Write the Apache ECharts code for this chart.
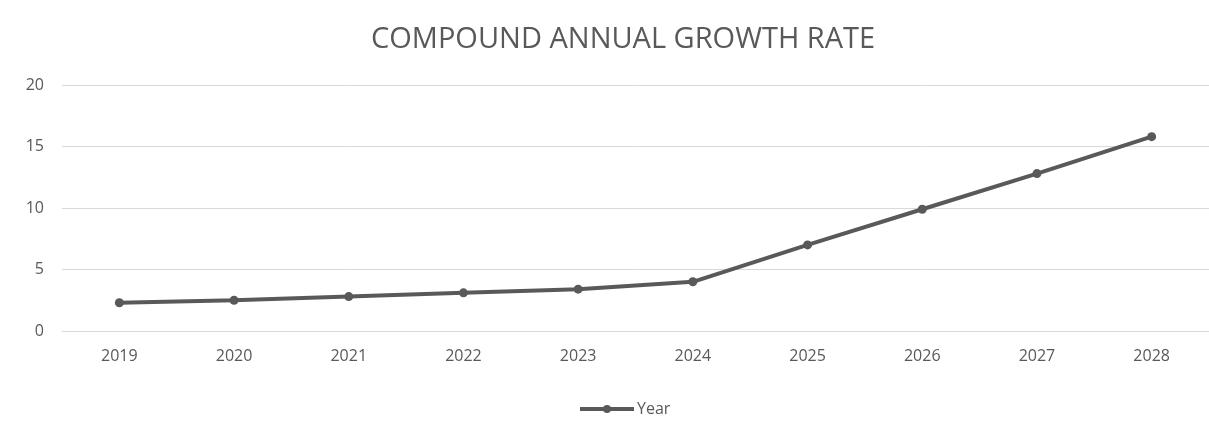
<!DOCTYPE html>
<html>
<head>
<meta charset="utf-8">
<script src="https://cdn.jsdelivr.net/npm/echarts@6/dist/echarts.min.js"></script>
<style>
  html, body { margin: 0; padding: 0; background: #fff; }
  #chart { width: 1209px; height: 433px; }
</style>
</head>
<body>
<div id="chart"></div>
<script>
  // data
  var years = ['2019', '2020', '2021', '2022', '2023', '2024', '2025', '2026', '2027', '2028'];
  var yearValues = [2.3, 2.5, 2.8, 3.1, 3.4, 4.0, 7.0, 9.9, 12.8, 15.8];

  var chart = echarts.init(document.getElementById('chart'));
  chart.setOption({
    backgroundColor: '#fff',
    animation: false,
    title: {
      text: 'COMPOUND ANNUAL GROWTH RATE',
      left: 366,
      top: 20,
      textStyle: {
        fontFamily: 'Open Sans',
        fontWeight: 'normal',
        fontSize: 29,
        color: '#595959'
      }
    },
    legend: {
      data: ['Year'],
      bottom: 11,
      left: 573,
      itemWidth: 54,
      itemHeight: 10,
      itemGap: 4,
      lineStyle: { width: 4 },
      textStyle: { fontFamily: 'Open Sans', fontSize: 16, color: '#595959', padding: [0, 0, 0, -2] }
    },
    grid: {
      left: 62,
      top: 85,
      width: 1151,
      bottom: 102
    },
    xAxis: {
      type: 'category',
      data: years,
      axisLine: { lineStyle: { color: '#d9d9d9', width: 1 } },
      axisTick: { show: false },
      axisLabel: { color: '#595959', fontFamily: 'Open Sans', fontSize: 16, margin: 17 }
    },
    yAxis: {
      type: 'value',
      min: 0,
      max: 20,
      interval: 5,
      axisLine: { show: false },
      axisTick: { show: false },
      axisLabel: { color: '#595959', fontFamily: 'Open Sans', fontSize: 16, margin: 18 },
      splitLine: { lineStyle: { color: '#d9d9d9', width: 1 } }
    },
    series: [
      {
        name: 'Year',
        type: 'line',
        data: yearValues,
        symbol: 'circle',
        symbolSize: 9,
        lineStyle: { color: '#595959', width: 4 },
        itemStyle: { color: '#595959' }
      }
    ]
  });
</script>
</body>
</html>
